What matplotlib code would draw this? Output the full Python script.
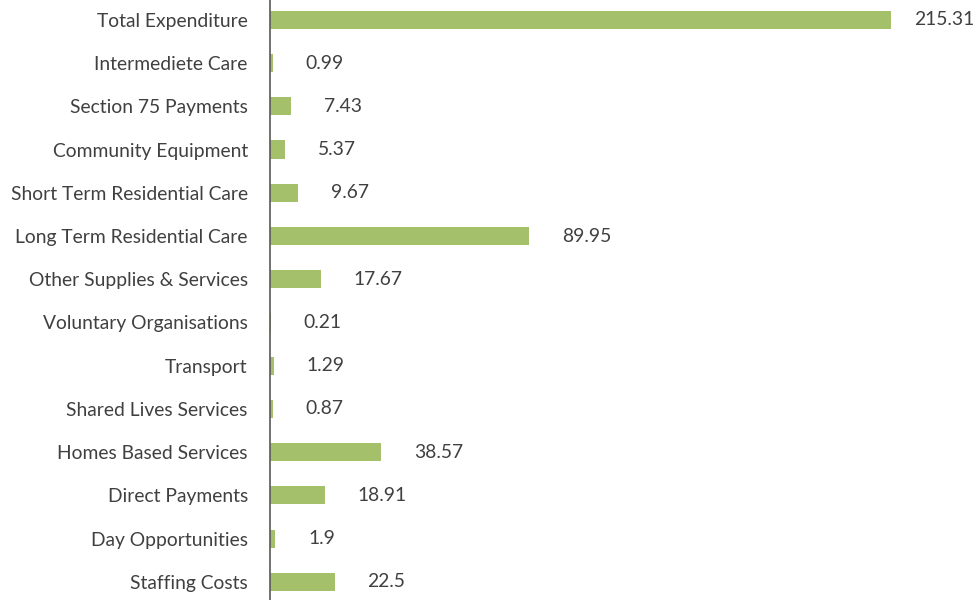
import matplotlib.pyplot as plt

categories = ["Staffing Costs", "Day Opportunities", "Direct Payments",
              "Homes Based Services", "Shared Lives Services", "Transport",
              "Voluntary Organisations", "Other Supplies & Services",
              "Long Term Residential Care", "Short Term Residential Care",
              "Community Equipment", "Section 75 Payments",
              "Intermediete Care", "Total Expenditure"]
values = [22.5, 1.9, 18.91, 38.57, 0.87, 1.29, 0.21, 17.67,
          89.95, 9.67, 5.37, 7.43, 0.99, 215.31]
labels = ["22.5", "1.9", "18.91", "38.57", "0.87", "1.29", "0.21", "17.67",
          "89.95", "9.67", "5.37", "7.43", "0.99", "215.31"]

plt.rcParams['font.family'] = ['Lato', 'DejaVu Sans']
text_color = "#404040"
bar_color = "#A5C06B"

fig = plt.figure(figsize=(9.75, 6.0), dpi=100)
ax = fig.add_axes([270 / 975, 0, 705 / 975, 1])

y = range(len(categories))
ax.barh(y, values, height=0.42, color=bar_color)

ax.set_xlim(0, 244.4)
ax.set_ylim(-0.42, 13.46)
ax.set_yticks(list(y))
ax.set_yticklabels(categories, fontsize=13.9, color=text_color)
ax.tick_params(axis='y', length=0, pad=16)
ax.set_xticks([])

for s in ["top", "right", "bottom"]:
    ax.spines[s].set_visible(False)
ax.spines["left"].set_color("#595959")
ax.spines["left"].set_linewidth(1.2)

for i, (v, lab) in enumerate(zip(values, labels)):
    off = 16.5 if i == len(values) - 1 else 23.5
    ax.annotate(lab, xy=(v, i), xytext=(off, 0), textcoords="offset points",
                va="center", ha="left", fontsize=13.9, color=text_color)

fig.savefig("out.png", dpi=100)
